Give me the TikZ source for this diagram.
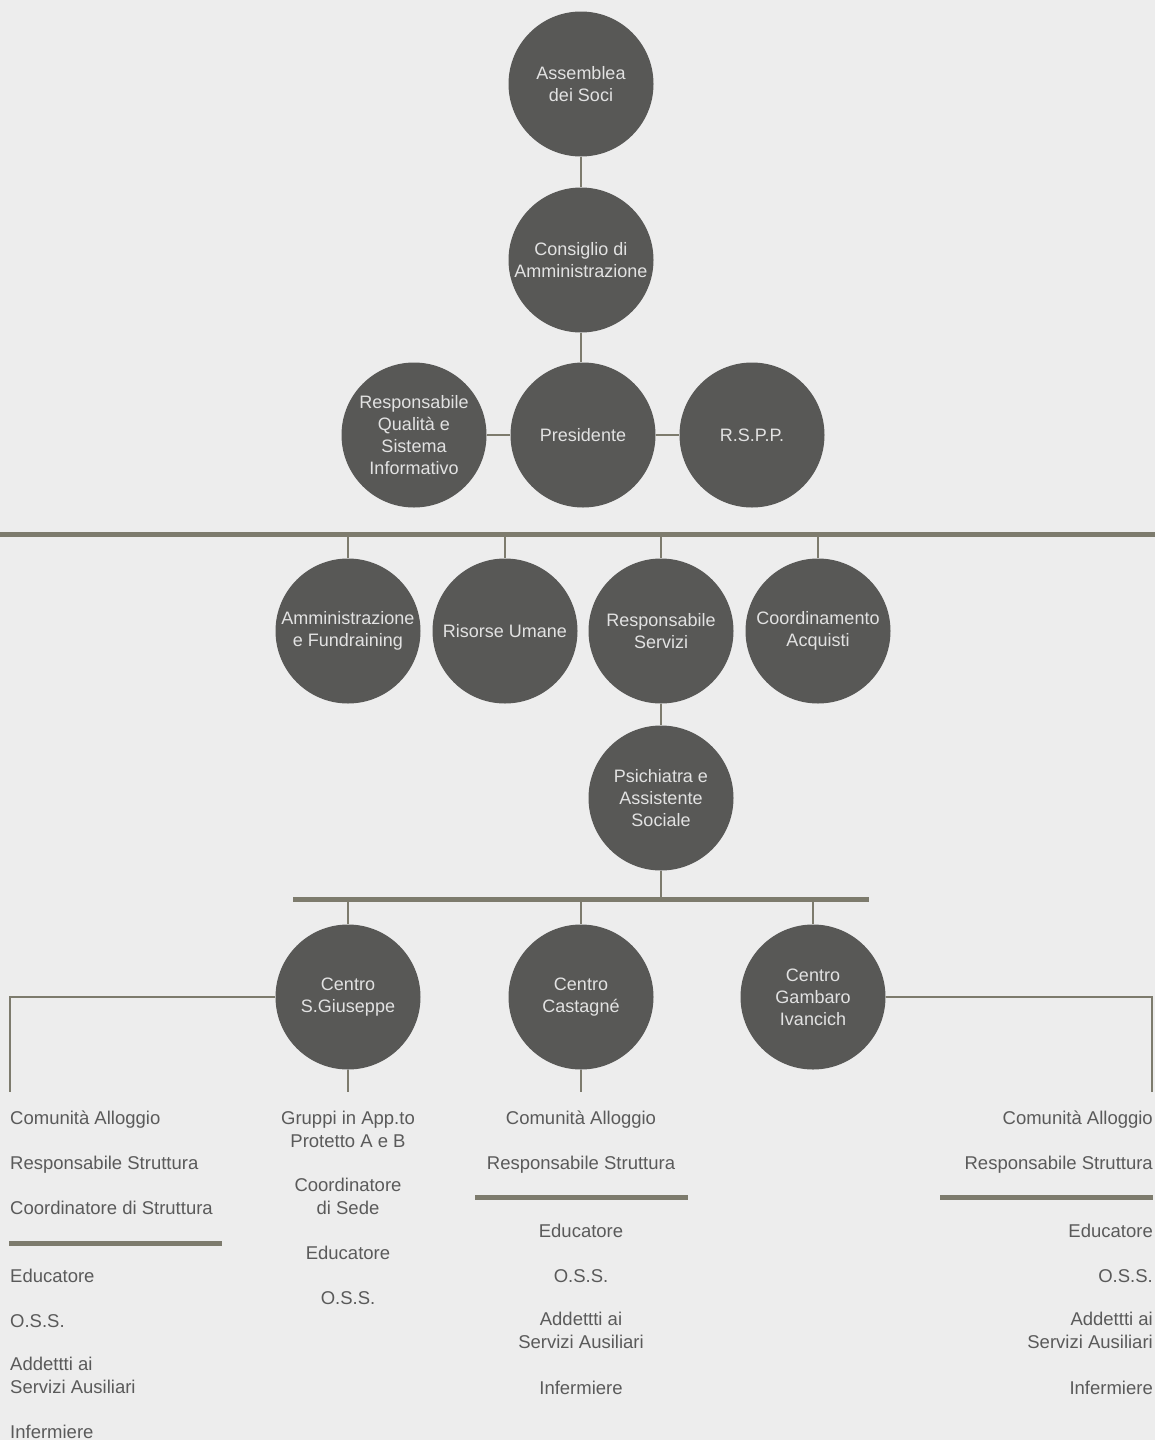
\documentclass[tikz,border=0pt]{standalone}
\usepackage{fontspec}
\setmainfont{Liberation Sans}
\definecolor{bgc}{HTML}{EDEDED}
\definecolor{circfill}{HTML}{585856}
\definecolor{circtext}{HTML}{E2E2E2}
\definecolor{linec}{HTML}{7D7B6D}
\definecolor{listtext}{HTML}{5A5A5A}
\tikzset{
  circ/.style={circle, fill=circfill, minimum size=145pt, inner sep=0pt, align=center,
    text=circtext, font=\fontsize{18}{22}\selectfont},
  conn/.style={draw=linec, line width=1.3pt},
  bar/.style={draw=linec, line width=5pt},
  listL/.style={anchor=base west, inner sep=0pt, text=listtext, align=left, font=\fontsize{18.5}{22.5}\selectfont},
  listC/.style={anchor=base, inner sep=0pt, text=listtext, align=center, font=\fontsize{18.5}{22.5}\selectfont},
  listR/.style={anchor=base east, inner sep=0pt, text=listtext, align=right, font=\fontsize{18.5}{22.5}\selectfont}
}
\begin{document}
\begin{tikzpicture}[x=1pt,y=-1pt]
\fill[bgc] (0,0) rectangle (1155,1440);
\useasboundingbox (0,0) rectangle (1155,1440);

% top chain
\node[circ] (asm) at (581,84) {Assemblea\\dei Soci};
\node[circ] (cda) at (581,260) {Consiglio di\\Amministrazione};
\node[circ] (pres) at (583,435) {Presidente};
\node[circ] (qual) at (414,435) {Responsabile\\Qualità e\\Sistema\\Informativo};
\node[circ] (rspp) at (752,435) {R.S.P.P.};
\draw[conn] (asm) -- (cda);
\draw[conn] (cda.south) -- (cda.south |- pres.north);
\draw[conn] (pres) -- (qual);
\draw[conn] (pres) -- (rspp);

% bar 1
\coordinate (b1l) at (0,534);
\coordinate (b1r) at (1155,534);
\draw[bar] (b1l) -- (b1r);
\node[circ] (amm) at (348,631) {Amministrazione\\e Fundraining};
\node[circ] (risu) at (505,631) {Risorse Umane};
\node[circ] (rser) at (661,631) {Responsabile\\Servizi};
\node[circ] (acq) at (818,631) {Coordinamento\\Acquisti};
\foreach \n in {amm,risu,rser,acq}{
  \coordinate (t-\n) at (\n.north |- b1l);
  \draw[conn] (t-\n) -- (\n.north);
}

\node[circ] (psi) at (661,798) {Psichiatra e\\Assistente\\Sociale};
\draw[conn] (rser) -- (psi);

% bar 2
\coordinate (b2l) at (293,899.5);
\coordinate (b2r) at (869,899.5);
\draw[bar] (b2l) -- (b2r);
\draw[conn] (psi.south) -- (psi.south |- b2l);
\node[circ] (sgiu) at (348,997) {Centro\\S.Giuseppe};
\node[circ] (cast) at (581,997) {Centro\\Castagné};
\node[circ] (gamb) at (813,997) {Centro\\Gambaro\\Ivancich};
\foreach \n in {sgiu,cast,gamb}{
  \coordinate (t-\n) at (\n.north |- b2l);
  \draw[conn] (t-\n) -- (\n.north);
}

% branches to lists
\coordinate (lend) at (10,1092);
\coordinate (rend) at (1152,1092);
\draw[conn] (sgiu.west) -| (lend);
\draw[conn] (gamb.east) -| (rend);
\coordinate (sgiuend) at (348,1092);
\coordinate (castend) at (581,1092);
\draw[conn] (sgiu.south) -- (sgiuend);
\draw[conn] (cast.south) -- (castend);

% left list (anchor = baseline of last line)
\node[listL] (l1) at (10,1124) {Comunità Alloggio};
\node[listL] (l2) at (10,1169) {Responsabile Struttura};
\node[listL] (l3) at (10,1214) {Coordinatore di Struttura};
\coordinate (lb1) at (9,1243);
\coordinate (lb2) at (222,1243);
\draw[bar] (lb1) -- (lb2);
\node[listL] (l4) at (10,1282) {Educatore};
\node[listL] (l5) at (10,1327) {O.S.S.};
\node[listL] (l6) at (10,1393) {Addettti ai\\Servizi Ausiliari};
\node[listL] (l7) at (10,1438) {Infermiere};

% second list
\node[listC] (g1) at (348,1147) {Gruppi in App.to\\Protetto A e B};
\node[listC] (g2) at (348,1214) {Coordinatore\\di Sede};
\node[listC] (g3) at (348,1259) {Educatore};
\node[listC] (g4) at (348,1304) {O.S.S.};

% third list
\node[listC] (c1) at (581,1124) {Comunità Alloggio};
\node[listC] (c2) at (581,1169) {Responsabile Struttura};
\coordinate (cb1) at (475,1197);
\coordinate (cb2) at (688,1197);
\draw[bar] (cb1) -- (cb2);
\node[listC] (c3) at (581,1237) {Educatore};
\node[listC] (c4) at (581,1282) {O.S.S.};
\node[listC] (c5) at (581,1348) {Addettti ai\\Servizi Ausiliari};
\node[listC] (c6) at (581,1394) {Infermiere};

% right list
\node[listR] (r1) at (1153,1124) {Comunità Alloggio};
\node[listR] (r2) at (1153,1169) {Responsabile Struttura};
\coordinate (rb1) at (940,1197);
\coordinate (rb2) at (1153,1197);
\draw[bar] (rb1) -- (rb2);
\node[listR] (r3) at (1153,1237) {Educatore};
\node[listR] (r4) at (1153,1282) {O.S.S.};
\node[listR] (r5) at (1153,1348) {Addettti ai\\Servizi Ausiliari};
\node[listR] (r6) at (1153,1394) {Infermiere};
\end{tikzpicture}
\end{document}
